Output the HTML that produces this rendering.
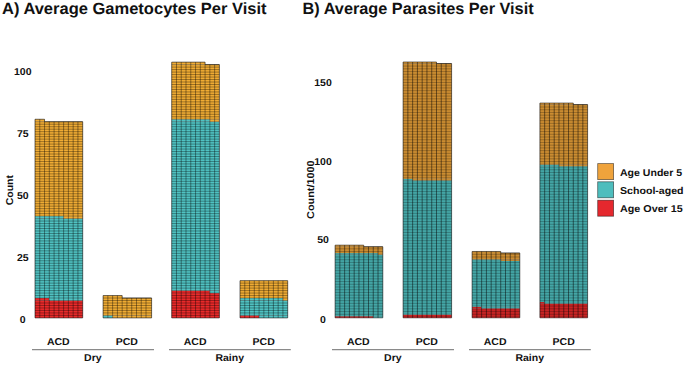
<!DOCTYPE html><html><head><meta charset="utf-8"><style>
html,body{margin:0;padding:0;background:#fff;}
body{width:685px;height:365px;overflow:hidden;position:relative;font-family:"Liberation Sans",sans-serif;font-weight:bold;color:#111;}
svg{position:absolute;left:0;top:0;}
text{font-family:"Liberation Sans",sans-serif;font-weight:bold;fill:#111;text-rendering:geometricPrecision;}
</style></head><body>
<svg width="685" height="365" viewBox="0 0 685 365">
<rect x="35" y="300.52" width="47.7" height="17.38" fill="#EA2A2A"/>
<rect x="35" y="298.04" width="14.31" height="2.48" fill="#EA2A2A"/>
<rect x="49.31" y="298.04" width="33.39" height="2.48" fill="#50C3C3"/>
<rect x="35" y="218.58" width="47.7" height="79.46" fill="#50C3C3"/>
<rect x="35" y="216.1" width="28.62" height="2.48" fill="#50C3C3"/>
<rect x="63.62" y="216.1" width="19.08" height="2.48" fill="#F0AC34"/>
<rect x="35" y="121.74" width="47.7" height="94.35" fill="#F0AC34"/>
<rect x="35" y="119.26" width="9.54" height="2.48" fill="#F0AC34"/>
<path d="M35 315.42h47.7M35 312.93h47.7M35 310.45h47.7M35 307.97h47.7M35 305.48h47.7M35 303h47.7M35 300.52h47.7M35 298.04h47.7M35 295.55h47.7M35 293.07h47.7M35 290.59h47.7M35 288.1h47.7M35 285.62h47.7M35 283.14h47.7M35 280.65h47.7M35 278.17h47.7M35 275.69h47.7M35 273.21h47.7M35 270.72h47.7M35 268.24h47.7M35 265.76h47.7M35 263.27h47.7M35 260.79h47.7M35 258.31h47.7M35 255.82h47.7M35 253.34h47.7M35 250.86h47.7M35 248.38h47.7M35 245.89h47.7M35 243.41h47.7M35 240.93h47.7M35 238.44h47.7M35 235.96h47.7M35 233.48h47.7M35 230.99h47.7M35 228.51h47.7M35 226.03h47.7M35 223.55h47.7M35 221.06h47.7M35 218.58h47.7M35 216.1h47.7M35 213.61h47.7M35 211.13h47.7M35 208.65h47.7M35 206.16h47.7M35 203.68h47.7M35 201.2h47.7M35 198.72h47.7M35 196.23h47.7M35 193.75h47.7M35 191.27h47.7M35 188.78h47.7M35 186.3h47.7M35 183.82h47.7M35 181.33h47.7M35 178.85h47.7M35 176.37h47.7M35 173.89h47.7M35 171.4h47.7M35 168.92h47.7M35 166.44h47.7M35 163.95h47.7M35 161.47h47.7M35 158.99h47.7M35 156.5h47.7M35 154.02h47.7M35 151.54h47.7M35 149.06h47.7M35 146.57h47.7M35 144.09h47.7M35 141.61h47.7M35 139.12h47.7M35 136.64h47.7M35 134.16h47.7M35 131.67h47.7M35 129.19h47.7M35 126.71h47.7M35 124.23h47.7M35 121.74h47.7" stroke="#000" stroke-opacity="0.58" stroke-width="0.6" fill="none"/>
<path d="M39.77 317.9V119.26M44.54 317.9V121.74M49.31 317.9V121.74M54.08 317.9V121.74M58.85 317.9V121.74M63.62 317.9V121.74M68.39 317.9V121.74M73.16 317.9V121.74M77.93 317.9V121.74" stroke="#000" stroke-opacity="0.65" stroke-width="0.6" fill="none"/>
<path d="M35 317.9L35 119.26L44.54 119.26L44.54 121.74L82.7 121.74L82.7 317.9Z" stroke="#000" stroke-opacity="0.7" stroke-width="0.8" fill="none"/>
<rect x="103.1" y="315.42" width="9.54" height="2.48" fill="#50C3C3"/>
<rect x="112.64" y="315.42" width="38.96" height="2.48" fill="#F0AC34"/>
<rect x="103.1" y="298.04" width="48.5" height="17.38" fill="#F0AC34"/>
<rect x="103.1" y="295.55" width="19.08" height="2.48" fill="#F0AC34"/>
<path d="M103.1 315.42h48.5M103.1 312.93h48.5M103.1 310.45h48.5M103.1 307.97h48.5M103.1 305.48h48.5M103.1 303h48.5M103.1 300.52h48.5M103.1 298.04h48.5" stroke="#000" stroke-opacity="0.58" stroke-width="0.6" fill="none"/>
<path d="M107.87 317.9V295.55M112.64 317.9V295.55M117.41 317.9V295.55M122.18 317.9V298.04M126.95 317.9V298.04M131.72 317.9V298.04M136.49 317.9V298.04M141.26 317.9V298.04M146.03 317.9V298.04" stroke="#000" stroke-opacity="0.65" stroke-width="0.6" fill="none"/>
<path d="M103.1 317.9L103.1 295.55L122.18 295.55L122.18 298.04L151.6 298.04L151.6 317.9Z" stroke="#000" stroke-opacity="0.7" stroke-width="0.8" fill="none"/>
<rect x="171.7" y="293.07" width="47.7" height="24.83" fill="#EA2A2A"/>
<rect x="171.7" y="290.59" width="38.16" height="2.48" fill="#EA2A2A"/>
<rect x="209.86" y="290.59" width="9.54" height="2.48" fill="#50C3C3"/>
<rect x="171.7" y="121.74" width="47.7" height="168.84" fill="#50C3C3"/>
<rect x="171.7" y="119.26" width="38.16" height="2.48" fill="#50C3C3"/>
<rect x="209.86" y="119.26" width="9.54" height="2.48" fill="#F0AC34"/>
<rect x="171.7" y="64.63" width="47.7" height="54.63" fill="#F0AC34"/>
<rect x="171.7" y="62.15" width="33.39" height="2.48" fill="#F0AC34"/>
<path d="M171.7 315.42h47.7M171.7 312.93h47.7M171.7 310.45h47.7M171.7 307.97h47.7M171.7 305.48h47.7M171.7 303h47.7M171.7 300.52h47.7M171.7 298.04h47.7M171.7 295.55h47.7M171.7 293.07h47.7M171.7 290.59h47.7M171.7 288.1h47.7M171.7 285.62h47.7M171.7 283.14h47.7M171.7 280.65h47.7M171.7 278.17h47.7M171.7 275.69h47.7M171.7 273.21h47.7M171.7 270.72h47.7M171.7 268.24h47.7M171.7 265.76h47.7M171.7 263.27h47.7M171.7 260.79h47.7M171.7 258.31h47.7M171.7 255.82h47.7M171.7 253.34h47.7M171.7 250.86h47.7M171.7 248.38h47.7M171.7 245.89h47.7M171.7 243.41h47.7M171.7 240.93h47.7M171.7 238.44h47.7M171.7 235.96h47.7M171.7 233.48h47.7M171.7 230.99h47.7M171.7 228.51h47.7M171.7 226.03h47.7M171.7 223.55h47.7M171.7 221.06h47.7M171.7 218.58h47.7M171.7 216.1h47.7M171.7 213.61h47.7M171.7 211.13h47.7M171.7 208.65h47.7M171.7 206.16h47.7M171.7 203.68h47.7M171.7 201.2h47.7M171.7 198.72h47.7M171.7 196.23h47.7M171.7 193.75h47.7M171.7 191.27h47.7M171.7 188.78h47.7M171.7 186.3h47.7M171.7 183.82h47.7M171.7 181.33h47.7M171.7 178.85h47.7M171.7 176.37h47.7M171.7 173.89h47.7M171.7 171.4h47.7M171.7 168.92h47.7M171.7 166.44h47.7M171.7 163.95h47.7M171.7 161.47h47.7M171.7 158.99h47.7M171.7 156.5h47.7M171.7 154.02h47.7M171.7 151.54h47.7M171.7 149.06h47.7M171.7 146.57h47.7M171.7 144.09h47.7M171.7 141.61h47.7M171.7 139.12h47.7M171.7 136.64h47.7M171.7 134.16h47.7M171.7 131.67h47.7M171.7 129.19h47.7M171.7 126.71h47.7M171.7 124.23h47.7M171.7 121.74h47.7M171.7 119.26h47.7M171.7 116.78h47.7M171.7 114.29h47.7M171.7 111.81h47.7M171.7 109.33h47.7M171.7 106.84h47.7M171.7 104.36h47.7M171.7 101.88h47.7M171.7 99.4h47.7M171.7 96.91h47.7M171.7 94.43h47.7M171.7 91.95h47.7M171.7 89.46h47.7M171.7 86.98h47.7M171.7 84.5h47.7M171.7 82.01h47.7M171.7 79.53h47.7M171.7 77.05h47.7M171.7 74.57h47.7M171.7 72.08h47.7M171.7 69.6h47.7M171.7 67.12h47.7M171.7 64.63h47.7" stroke="#000" stroke-opacity="0.58" stroke-width="0.6" fill="none"/>
<path d="M176.47 317.9V62.15M181.24 317.9V62.15M186.01 317.9V62.15M190.78 317.9V62.15M195.55 317.9V62.15M200.32 317.9V62.15M205.09 317.9V64.63M209.86 317.9V64.63M214.63 317.9V64.63" stroke="#000" stroke-opacity="0.65" stroke-width="0.6" fill="none"/>
<path d="M171.7 317.9L171.7 62.15L205.09 62.15L205.09 64.63L219.4 64.63L219.4 317.9Z" stroke="#000" stroke-opacity="0.7" stroke-width="0.8" fill="none"/>
<rect x="240" y="315.42" width="19.08" height="2.48" fill="#EA2A2A"/>
<rect x="259.08" y="315.42" width="28.62" height="2.48" fill="#50C3C3"/>
<rect x="240" y="300.52" width="47.7" height="14.9" fill="#50C3C3"/>
<rect x="240" y="298.04" width="42.93" height="2.48" fill="#50C3C3"/>
<rect x="282.93" y="298.04" width="4.77" height="2.48" fill="#F0AC34"/>
<rect x="240" y="280.65" width="47.7" height="17.38" fill="#F0AC34"/>
<path d="M240 315.42h47.7M240 312.93h47.7M240 310.45h47.7M240 307.97h47.7M240 305.48h47.7M240 303h47.7M240 300.52h47.7M240 298.04h47.7M240 295.55h47.7M240 293.07h47.7M240 290.59h47.7M240 288.1h47.7M240 285.62h47.7M240 283.14h47.7" stroke="#000" stroke-opacity="0.58" stroke-width="0.6" fill="none"/>
<path d="M244.77 317.9V280.65M249.54 317.9V280.65M254.31 317.9V280.65M259.08 317.9V280.65M263.85 317.9V280.65M268.62 317.9V280.65M273.39 317.9V280.65M278.16 317.9V280.65M282.93 317.9V280.65" stroke="#000" stroke-opacity="0.65" stroke-width="0.6" fill="none"/>
<path d="M240 317.9L240 280.65L287.7 280.65L287.7 317.9Z" stroke="#000" stroke-opacity="0.7" stroke-width="0.8" fill="none"/>
<rect x="335.1" y="316.22" width="38.16" height="1.58" fill="#EA2A2A"/>
<rect x="373.26" y="316.22" width="9.54" height="1.58" fill="#50C3C3"/>
<rect x="335.1" y="254.64" width="47.7" height="61.58" fill="#50C3C3"/>
<rect x="335.1" y="253.06" width="42.93" height="1.58" fill="#50C3C3"/>
<rect x="378.03" y="253.06" width="4.77" height="1.58" fill="#EEA53A"/>
<rect x="335.1" y="246.75" width="47.7" height="6.32" fill="#EEA53A"/>
<rect x="335.1" y="245.17" width="28.62" height="1.58" fill="#EEA53A"/>
<path d="M335.1 316.22h47.7M335.1 314.64h47.7M335.1 313.06h47.7M335.1 311.48h47.7M335.1 309.91h47.7M335.1 308.33h47.7M335.1 306.75h47.7M335.1 305.17h47.7M335.1 303.59h47.7M335.1 302.01h47.7M335.1 300.43h47.7M335.1 298.85h47.7M335.1 297.27h47.7M335.1 295.69h47.7M335.1 294.12h47.7M335.1 292.54h47.7M335.1 290.96h47.7M335.1 289.38h47.7M335.1 287.8h47.7M335.1 286.22h47.7M335.1 284.64h47.7M335.1 283.06h47.7M335.1 281.48h47.7M335.1 279.9h47.7M335.1 278.32h47.7M335.1 276.75h47.7M335.1 275.17h47.7M335.1 273.59h47.7M335.1 272.01h47.7M335.1 270.43h47.7M335.1 268.85h47.7M335.1 267.27h47.7M335.1 265.69h47.7M335.1 264.11h47.7M335.1 262.54h47.7M335.1 260.96h47.7M335.1 259.38h47.7M335.1 257.8h47.7M335.1 256.22h47.7M335.1 254.64h47.7M335.1 253.06h47.7M335.1 251.48h47.7M335.1 249.9h47.7M335.1 248.32h47.7M335.1 246.75h47.7" stroke="#000" stroke-opacity="0.65" stroke-width="0.55" fill="none"/>
<path d="M339.87 317.8V245.17M344.64 317.8V245.17M349.41 317.8V245.17M354.18 317.8V245.17M358.95 317.8V245.17M363.72 317.8V246.75M368.49 317.8V246.75M373.26 317.8V246.75M378.03 317.8V246.75" stroke="#000" stroke-opacity="0.8" stroke-width="0.6" fill="none"/>
<path d="M335.1 317.8L335.1 245.17L363.72 245.17L363.72 246.75L382.8 246.75L382.8 317.8Z" stroke="#000" stroke-opacity="0.7" stroke-width="0.8" fill="none"/>
<rect x="403.1" y="314.64" width="48.5" height="3.16" fill="#EA2A2A"/>
<rect x="403.1" y="180.43" width="48.5" height="134.22" fill="#50C3C3"/>
<rect x="403.1" y="178.85" width="9.54" height="1.58" fill="#50C3C3"/>
<rect x="412.64" y="178.85" width="38.96" height="1.58" fill="#EEA53A"/>
<rect x="403.1" y="63.58" width="48.5" height="115.27" fill="#EEA53A"/>
<rect x="403.1" y="62" width="33.39" height="1.58" fill="#EEA53A"/>
<path d="M403.1 316.22h48.5M403.1 314.64h48.5M403.1 313.06h48.5M403.1 311.48h48.5M403.1 309.91h48.5M403.1 308.33h48.5M403.1 306.75h48.5M403.1 305.17h48.5M403.1 303.59h48.5M403.1 302.01h48.5M403.1 300.43h48.5M403.1 298.85h48.5M403.1 297.27h48.5M403.1 295.69h48.5M403.1 294.12h48.5M403.1 292.54h48.5M403.1 290.96h48.5M403.1 289.38h48.5M403.1 287.8h48.5M403.1 286.22h48.5M403.1 284.64h48.5M403.1 283.06h48.5M403.1 281.48h48.5M403.1 279.9h48.5M403.1 278.32h48.5M403.1 276.75h48.5M403.1 275.17h48.5M403.1 273.59h48.5M403.1 272.01h48.5M403.1 270.43h48.5M403.1 268.85h48.5M403.1 267.27h48.5M403.1 265.69h48.5M403.1 264.11h48.5M403.1 262.54h48.5M403.1 260.96h48.5M403.1 259.38h48.5M403.1 257.8h48.5M403.1 256.22h48.5M403.1 254.64h48.5M403.1 253.06h48.5M403.1 251.48h48.5M403.1 249.9h48.5M403.1 248.32h48.5M403.1 246.75h48.5M403.1 245.17h48.5M403.1 243.59h48.5M403.1 242.01h48.5M403.1 240.43h48.5M403.1 238.85h48.5M403.1 237.27h48.5M403.1 235.69h48.5M403.1 234.11h48.5M403.1 232.53h48.5M403.1 230.96h48.5M403.1 229.38h48.5M403.1 227.8h48.5M403.1 226.22h48.5M403.1 224.64h48.5M403.1 223.06h48.5M403.1 221.48h48.5M403.1 219.9h48.5M403.1 218.32h48.5M403.1 216.74h48.5M403.1 215.17h48.5M403.1 213.59h48.5M403.1 212.01h48.5M403.1 210.43h48.5M403.1 208.85h48.5M403.1 207.27h48.5M403.1 205.69h48.5M403.1 204.11h48.5M403.1 202.53h48.5M403.1 200.95h48.5M403.1 199.38h48.5M403.1 197.8h48.5M403.1 196.22h48.5M403.1 194.64h48.5M403.1 193.06h48.5M403.1 191.48h48.5M403.1 189.9h48.5M403.1 188.32h48.5M403.1 186.74h48.5M403.1 185.16h48.5M403.1 183.59h48.5M403.1 182.01h48.5M403.1 180.43h48.5M403.1 178.85h48.5M403.1 177.27h48.5M403.1 175.69h48.5M403.1 174.11h48.5M403.1 172.53h48.5M403.1 170.95h48.5M403.1 169.37h48.5M403.1 167.8h48.5M403.1 166.22h48.5M403.1 164.64h48.5M403.1 163.06h48.5M403.1 161.48h48.5M403.1 159.9h48.5M403.1 158.32h48.5M403.1 156.74h48.5M403.1 155.16h48.5M403.1 153.58h48.5M403.1 152.01h48.5M403.1 150.43h48.5M403.1 148.85h48.5M403.1 147.27h48.5M403.1 145.69h48.5M403.1 144.11h48.5M403.1 142.53h48.5M403.1 140.95h48.5M403.1 139.37h48.5M403.1 137.79h48.5M403.1 136.22h48.5M403.1 134.64h48.5M403.1 133.06h48.5M403.1 131.48h48.5M403.1 129.9h48.5M403.1 128.32h48.5M403.1 126.74h48.5M403.1 125.16h48.5M403.1 123.58h48.5M403.1 122h48.5M403.1 120.43h48.5M403.1 118.85h48.5M403.1 117.27h48.5M403.1 115.69h48.5M403.1 114.11h48.5M403.1 112.53h48.5M403.1 110.95h48.5M403.1 109.37h48.5M403.1 107.79h48.5M403.1 106.21h48.5M403.1 104.64h48.5M403.1 103.06h48.5M403.1 101.48h48.5M403.1 99.9h48.5M403.1 98.32h48.5M403.1 96.74h48.5M403.1 95.16h48.5M403.1 93.58h48.5M403.1 92h48.5M403.1 90.42h48.5M403.1 88.85h48.5M403.1 87.27h48.5M403.1 85.69h48.5M403.1 84.11h48.5M403.1 82.53h48.5M403.1 80.95h48.5M403.1 79.37h48.5M403.1 77.79h48.5M403.1 76.21h48.5M403.1 74.63h48.5M403.1 73.06h48.5M403.1 71.48h48.5M403.1 69.9h48.5M403.1 68.32h48.5M403.1 66.74h48.5M403.1 65.16h48.5M403.1 63.58h48.5" stroke="#000" stroke-opacity="0.65" stroke-width="0.55" fill="none"/>
<path d="M407.87 317.8V62M412.64 317.8V62M417.41 317.8V62M422.18 317.8V62M426.95 317.8V62M431.72 317.8V62M436.49 317.8V63.58M441.26 317.8V63.58M446.03 317.8V63.58" stroke="#000" stroke-opacity="0.8" stroke-width="0.6" fill="none"/>
<path d="M403.1 317.8L403.1 62L436.49 62L436.49 63.58L451.6 63.58L451.6 317.8Z" stroke="#000" stroke-opacity="0.7" stroke-width="0.8" fill="none"/>
<rect x="472.1" y="308.33" width="47.7" height="9.47" fill="#EA2A2A"/>
<rect x="472.1" y="306.75" width="9.54" height="1.58" fill="#EA2A2A"/>
<rect x="481.64" y="306.75" width="38.16" height="1.58" fill="#50C3C3"/>
<rect x="472.1" y="260.96" width="47.7" height="45.79" fill="#50C3C3"/>
<rect x="472.1" y="259.38" width="28.62" height="1.58" fill="#50C3C3"/>
<rect x="500.72" y="259.38" width="19.08" height="1.58" fill="#EEA53A"/>
<rect x="472.1" y="253.06" width="47.7" height="6.32" fill="#EEA53A"/>
<rect x="472.1" y="251.48" width="28.62" height="1.58" fill="#EEA53A"/>
<path d="M472.1 316.22h47.7M472.1 314.64h47.7M472.1 313.06h47.7M472.1 311.48h47.7M472.1 309.91h47.7M472.1 308.33h47.7M472.1 306.75h47.7M472.1 305.17h47.7M472.1 303.59h47.7M472.1 302.01h47.7M472.1 300.43h47.7M472.1 298.85h47.7M472.1 297.27h47.7M472.1 295.69h47.7M472.1 294.12h47.7M472.1 292.54h47.7M472.1 290.96h47.7M472.1 289.38h47.7M472.1 287.8h47.7M472.1 286.22h47.7M472.1 284.64h47.7M472.1 283.06h47.7M472.1 281.48h47.7M472.1 279.9h47.7M472.1 278.32h47.7M472.1 276.75h47.7M472.1 275.17h47.7M472.1 273.59h47.7M472.1 272.01h47.7M472.1 270.43h47.7M472.1 268.85h47.7M472.1 267.27h47.7M472.1 265.69h47.7M472.1 264.11h47.7M472.1 262.54h47.7M472.1 260.96h47.7M472.1 259.38h47.7M472.1 257.8h47.7M472.1 256.22h47.7M472.1 254.64h47.7M472.1 253.06h47.7" stroke="#000" stroke-opacity="0.65" stroke-width="0.55" fill="none"/>
<path d="M476.87 317.8V251.48M481.64 317.8V251.48M486.41 317.8V251.48M491.18 317.8V251.48M495.95 317.8V251.48M500.72 317.8V253.06M505.49 317.8V253.06M510.26 317.8V253.06M515.03 317.8V253.06" stroke="#000" stroke-opacity="0.8" stroke-width="0.6" fill="none"/>
<path d="M472.1 317.8L472.1 251.48L500.72 251.48L500.72 253.06L519.8 253.06L519.8 317.8Z" stroke="#000" stroke-opacity="0.7" stroke-width="0.8" fill="none"/>
<rect x="539.9" y="303.59" width="47.7" height="14.21" fill="#EA2A2A"/>
<rect x="539.9" y="302.01" width="4.77" height="1.58" fill="#EA2A2A"/>
<rect x="544.67" y="302.01" width="42.93" height="1.58" fill="#50C3C3"/>
<rect x="539.9" y="166.22" width="47.7" height="135.79" fill="#50C3C3"/>
<rect x="539.9" y="164.64" width="19.08" height="1.58" fill="#50C3C3"/>
<rect x="558.98" y="164.64" width="28.62" height="1.58" fill="#EEA53A"/>
<rect x="539.9" y="104.64" width="47.7" height="60" fill="#EEA53A"/>
<rect x="539.9" y="103.06" width="33.39" height="1.58" fill="#EEA53A"/>
<path d="M539.9 316.22h47.7M539.9 314.64h47.7M539.9 313.06h47.7M539.9 311.48h47.7M539.9 309.91h47.7M539.9 308.33h47.7M539.9 306.75h47.7M539.9 305.17h47.7M539.9 303.59h47.7M539.9 302.01h47.7M539.9 300.43h47.7M539.9 298.85h47.7M539.9 297.27h47.7M539.9 295.69h47.7M539.9 294.12h47.7M539.9 292.54h47.7M539.9 290.96h47.7M539.9 289.38h47.7M539.9 287.8h47.7M539.9 286.22h47.7M539.9 284.64h47.7M539.9 283.06h47.7M539.9 281.48h47.7M539.9 279.9h47.7M539.9 278.32h47.7M539.9 276.75h47.7M539.9 275.17h47.7M539.9 273.59h47.7M539.9 272.01h47.7M539.9 270.43h47.7M539.9 268.85h47.7M539.9 267.27h47.7M539.9 265.69h47.7M539.9 264.11h47.7M539.9 262.54h47.7M539.9 260.96h47.7M539.9 259.38h47.7M539.9 257.8h47.7M539.9 256.22h47.7M539.9 254.64h47.7M539.9 253.06h47.7M539.9 251.48h47.7M539.9 249.9h47.7M539.9 248.32h47.7M539.9 246.75h47.7M539.9 245.17h47.7M539.9 243.59h47.7M539.9 242.01h47.7M539.9 240.43h47.7M539.9 238.85h47.7M539.9 237.27h47.7M539.9 235.69h47.7M539.9 234.11h47.7M539.9 232.53h47.7M539.9 230.96h47.7M539.9 229.38h47.7M539.9 227.8h47.7M539.9 226.22h47.7M539.9 224.64h47.7M539.9 223.06h47.7M539.9 221.48h47.7M539.9 219.9h47.7M539.9 218.32h47.7M539.9 216.74h47.7M539.9 215.17h47.7M539.9 213.59h47.7M539.9 212.01h47.7M539.9 210.43h47.7M539.9 208.85h47.7M539.9 207.27h47.7M539.9 205.69h47.7M539.9 204.11h47.7M539.9 202.53h47.7M539.9 200.95h47.7M539.9 199.38h47.7M539.9 197.8h47.7M539.9 196.22h47.7M539.9 194.64h47.7M539.9 193.06h47.7M539.9 191.48h47.7M539.9 189.9h47.7M539.9 188.32h47.7M539.9 186.74h47.7M539.9 185.16h47.7M539.9 183.59h47.7M539.9 182.01h47.7M539.9 180.43h47.7M539.9 178.85h47.7M539.9 177.27h47.7M539.9 175.69h47.7M539.9 174.11h47.7M539.9 172.53h47.7M539.9 170.95h47.7M539.9 169.37h47.7M539.9 167.8h47.7M539.9 166.22h47.7M539.9 164.64h47.7M539.9 163.06h47.7M539.9 161.48h47.7M539.9 159.9h47.7M539.9 158.32h47.7M539.9 156.74h47.7M539.9 155.16h47.7M539.9 153.58h47.7M539.9 152.01h47.7M539.9 150.43h47.7M539.9 148.85h47.7M539.9 147.27h47.7M539.9 145.69h47.7M539.9 144.11h47.7M539.9 142.53h47.7M539.9 140.95h47.7M539.9 139.37h47.7M539.9 137.79h47.7M539.9 136.22h47.7M539.9 134.64h47.7M539.9 133.06h47.7M539.9 131.48h47.7M539.9 129.9h47.7M539.9 128.32h47.7M539.9 126.74h47.7M539.9 125.16h47.7M539.9 123.58h47.7M539.9 122h47.7M539.9 120.43h47.7M539.9 118.85h47.7M539.9 117.27h47.7M539.9 115.69h47.7M539.9 114.11h47.7M539.9 112.53h47.7M539.9 110.95h47.7M539.9 109.37h47.7M539.9 107.79h47.7M539.9 106.21h47.7M539.9 104.64h47.7" stroke="#000" stroke-opacity="0.65" stroke-width="0.55" fill="none"/>
<path d="M544.67 317.8V103.06M549.44 317.8V103.06M554.21 317.8V103.06M558.98 317.8V103.06M563.75 317.8V103.06M568.52 317.8V103.06M573.29 317.8V104.64M578.06 317.8V104.64M582.83 317.8V104.64" stroke="#000" stroke-opacity="0.8" stroke-width="0.6" fill="none"/>
<path d="M539.9 317.8L539.9 103.06L573.29 103.06L573.29 104.64L587.6 104.64L587.6 317.8Z" stroke="#000" stroke-opacity="0.7" stroke-width="0.8" fill="none"/>
<path d="M32 349.65H154" stroke="#8a8a8a" stroke-width="1.2"/>
<path d="M169 349.65H290.8" stroke="#8a8a8a" stroke-width="1.2"/>
<path d="M332 349.65H454" stroke="#8a8a8a" stroke-width="1.2"/>
<path d="M469 349.65H590.8" stroke="#8a8a8a" stroke-width="1.2"/>
<rect x="597.7" y="163.6" width="15.9" height="16.0" fill="#EFA33C" stroke="#000" stroke-opacity="0.55" stroke-width="0.8"/>
<rect x="597.7" y="181.8" width="15.9" height="16.0" fill="#4DBDBD" stroke="#000" stroke-opacity="0.55" stroke-width="0.8"/>
<rect x="597.7" y="200.20000000000002" width="15.9" height="16.0" fill="#E5282E" stroke="#000" stroke-opacity="0.55" stroke-width="0.8"/>
<text x="2" y="13.55" font-size="16.3"  textLength="264.5" lengthAdjust="spacingAndGlyphs">A) Average Gametocytes Per Visit</text>
<text x="302.6" y="13.55" font-size="16.3"  textLength="231" lengthAdjust="spacingAndGlyphs">B) Average Parasites Per Visit</text>
<text x="22.8" y="74.84" font-size="10.0" text-anchor="middle" textLength="17.52" lengthAdjust="spacingAndGlyphs">100</text>
<text x="22.8" y="136.64" font-size="10.0" text-anchor="middle" textLength="11.68" lengthAdjust="spacingAndGlyphs">75</text>
<text x="22.8" y="198.94" font-size="10.0" text-anchor="middle" textLength="11.68" lengthAdjust="spacingAndGlyphs">50</text>
<text x="22.8" y="261.34" font-size="10.0" text-anchor="middle" textLength="11.68" lengthAdjust="spacingAndGlyphs">25</text>
<text x="22.8" y="322.94" font-size="10.0" text-anchor="middle" textLength="5.84" lengthAdjust="spacingAndGlyphs">0</text>
<text x="323" y="85.94" font-size="10.0" text-anchor="middle" textLength="17.52" lengthAdjust="spacingAndGlyphs">150</text>
<text x="323" y="165.24" font-size="10.0" text-anchor="middle" textLength="17.52" lengthAdjust="spacingAndGlyphs">100</text>
<text x="323" y="243.34" font-size="10.0" text-anchor="middle" textLength="11.68" lengthAdjust="spacingAndGlyphs">50</text>
<text x="323" y="322.64" font-size="10.0" text-anchor="middle" textLength="5.84" lengthAdjust="spacingAndGlyphs">0</text>
<text transform="translate(13.44 190.2) rotate(-90)" font-size="10.0" text-anchor="middle" textLength="30.32" lengthAdjust="spacingAndGlyphs">Count</text>
<text transform="translate(313.64 189.7) rotate(-90)" font-size="10.0" text-anchor="middle" textLength="58.48" lengthAdjust="spacingAndGlyphs">Count/1000</text>
<text x="58.3" y="345.14" font-size="10.0" text-anchor="middle" textLength="22.75" lengthAdjust="spacingAndGlyphs">ACD</text>
<text x="126.85" y="345.14" font-size="10.0" text-anchor="middle" textLength="22.17" lengthAdjust="spacingAndGlyphs">PCD</text>
<text x="195.1" y="345.14" font-size="10.0" text-anchor="middle" textLength="22.75" lengthAdjust="spacingAndGlyphs">ACD</text>
<text x="263.65" y="345.14" font-size="10.0" text-anchor="middle" textLength="22.17" lengthAdjust="spacingAndGlyphs">PCD</text>
<text x="92.85" y="361" font-size="10.0" text-anchor="middle" textLength="17.51" lengthAdjust="spacingAndGlyphs">Dry</text>
<text x="229.7" y="361" font-size="10.0" text-anchor="middle" textLength="28.59" lengthAdjust="spacingAndGlyphs">Rainy</text>
<text x="358.3" y="345.14" font-size="10.0" text-anchor="middle" textLength="22.75" lengthAdjust="spacingAndGlyphs">ACD</text>
<text x="426.85" y="345.14" font-size="10.0" text-anchor="middle" textLength="22.17" lengthAdjust="spacingAndGlyphs">PCD</text>
<text x="495.1" y="345.14" font-size="10.0" text-anchor="middle" textLength="22.75" lengthAdjust="spacingAndGlyphs">ACD</text>
<text x="563.65" y="345.14" font-size="10.0" text-anchor="middle" textLength="22.17" lengthAdjust="spacingAndGlyphs">PCD</text>
<text x="392.85" y="361" font-size="10.0" text-anchor="middle" textLength="17.51" lengthAdjust="spacingAndGlyphs">Dry</text>
<text x="529.7" y="361" font-size="10.0" text-anchor="middle" textLength="28.59" lengthAdjust="spacingAndGlyphs">Rainy</text>
<text x="620" y="176.1" font-size="10.0" textLength="62.14" lengthAdjust="spacingAndGlyphs">Age Under 5</text>
<text x="620" y="194.3" font-size="10.0" textLength="63.61" lengthAdjust="spacingAndGlyphs">School-aged</text>
<text x="620" y="212.2" font-size="10.0" textLength="62.74" lengthAdjust="spacingAndGlyphs">Age Over 15</text>
</svg></body></html>
